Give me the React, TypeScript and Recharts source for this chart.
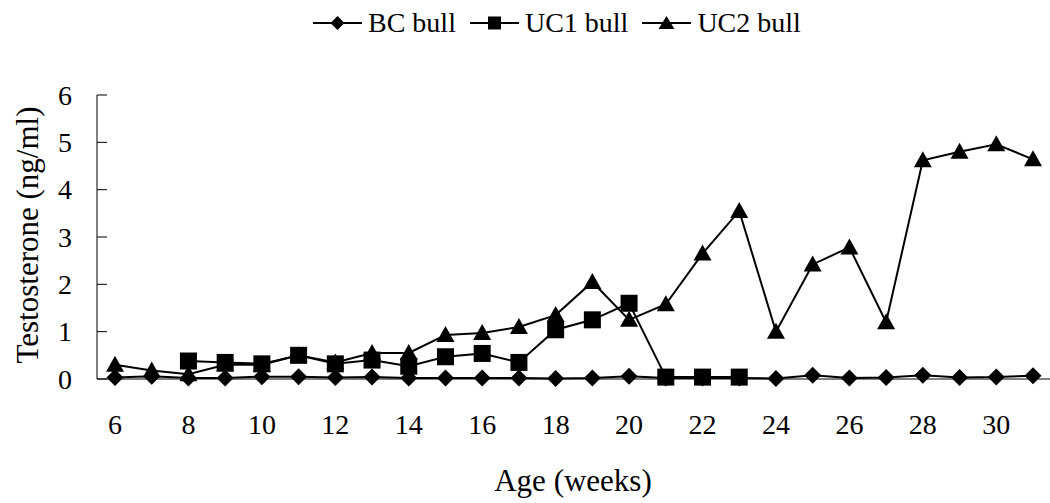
import React from "react";
import { LineChart, Line, XAxis, YAxis, Label } from "recharts";

const weeks = [6, 7, 8, 9, 10, 11, 12, 13, 14, 15, 16, 17, 18, 19, 20, 21, 22, 23, 24, 25, 26, 27, 28, 29, 30, 31];
const bcBull = [0.03, 0.06, 0.02, 0.02, 0.05, 0.05, 0.03, 0.04, 0.02, 0.02, 0.02, 0.02, 0.01, 0.02, 0.06, 0.02, 0.02, 0.02, 0.01, 0.08, 0.02, 0.03, 0.08, 0.03, 0.04, 0.07];
const uc1Bull = [null, null, 0.38, 0.35, 0.32, 0.5, 0.32, 0.4, 0.27, 0.47, 0.54, 0.35, 1.04, 1.25, 1.6, 0.04, 0.04, 0.04, null, null, null, null, null, null, null, null];
const uc2Bull = [0.3, 0.18, 0.1, 0.3, 0.3, 0.5, 0.35, 0.55, 0.55, 0.93, 0.97, 1.1, 1.35, 2.05, 1.25, 1.58, 2.65, 3.55, 1.0, 2.42, 2.78, 1.2, 4.62, 4.8, 4.96, 4.64];
const yTicks = [0, 1, 2, 3, 4, 5, 6];
const seriesNames = ["BC bull", "UC1 bull", "UC2 bull"];

const data = weeks.map((w, i) => ({
  week: w,
  bc: bcBull[i],
  uc1: uc1Bull[i],
  uc2: uc2Bull[i],
}));

const FONT = "Liberation Serif";

const Diamond = (props: any) => {
  const { cx, cy } = props;
  if (cx == null || cy == null || props.value == null) return null;
  const r = 8.5;
  return <path d={`M${cx},${cy - r}L${cx + r},${cy}L${cx},${cy + r}L${cx - r},${cy}Z`} fill="#000" />;
};
const Square = (props: any) => {
  const { cx, cy } = props;
  if (cx == null || cy == null || props.value == null) return null;
  const h = 8.5;
  return <rect x={cx - h} y={cy - h} width={2 * h} height={2 * h} fill="#000" />;
};
const Triangle = (props: any) => {
  const { cx, cy } = props;
  if (cx == null || cy == null || props.value == null) return null;
  const w = 9, hTop = 9, hBot = 7;
  return <path d={`M${cx},${cy - hTop}L${cx + w},${cy + hBot}L${cx - w},${cy + hBot}Z`} fill="#000" />;
};

const YTick = (props: any) => {
  const { x, y, payload } = props;
  return (
    <g>
      <line x1={x} x2={x + 10} y1={y} y2={y} stroke="#000" strokeWidth={1} />
      <text x={x - 25} y={y} textAnchor="end" dominantBaseline="central" fontFamily={FONT} fontSize={28} fill="#000">
        {payload.value}
      </text>
    </g>
  );
};

const icons = [
  (c: number) => <path d={`M${c},4L${c + 7},11L${c},18L${c - 7},11Z`} fill="#000" />,
  (c: number) => <rect x={c - 6.5} y={4.5} width={13} height={13} fill="#000" />,
  (c: number) => <path d={`M${c},4L${c + 8},17L${c - 8},17Z`} fill="#000" />,
];

const LegendBox = () => (
  <div
    style={{
      position: "absolute",
      left: 313,
      top: 8,
      display: "flex",
      alignItems: "center",
      fontFamily: FONT,
      fontSize: 28,
      color: "#000",
      lineHeight: "30px",
      whiteSpace: "nowrap",
    }}
  >
    {seriesNames.map((n, i) => (
      <div key={n} style={{ display: "flex", alignItems: "center", marginRight: 14 }}>
        <svg width={49} height={22} style={{ marginRight: 6 }}>
          <line x1={0} x2={49} y1={11} y2={11} stroke="#000" strokeWidth={2} />
          {icons[i](24.5)}
        </svg>
        <span>{n}</span>
      </div>
    ))}
  </div>
);

export default function App() {
  return (
    <div style={{ position: "absolute", left: 0, top: 0, width: 1050, height: 503, background: "#fff" }}>
      <LineChart width={1050} height={503} data={data} margin={{ top: 95, right: 0, bottom: 0, left: 0 }}>
        <XAxis
          dataKey="week"
          type="category"
          interval={1}
          padding={{ left: 18, right: 17 }}
          tickLine={false}
          tickSize={0}
          tickMargin={35}
          height={124}
          axisLine={{ stroke: "#000", strokeWidth: 1 }}
          tick={{ fontFamily: FONT, fontSize: 28, fill: "#000" }}
        >
          <Label
            content={() => (
              <text x={573} y={491} textAnchor="middle" fontFamily={FONT} fontSize={31} fill="#000">
                Age (weeks)
              </text>
            )}
          />
        </XAxis>
        <YAxis
          domain={[0, 6]}
          ticks={yTicks}
          width={97}
          tickLine={false}
          tickSize={0}
          tickMargin={0}
          axisLine={{ stroke: "#000", strokeWidth: 1 }}
          tick={<YTick />}
        >
          <Label
            content={() => (
              <text transform="translate(27,235) rotate(-90)" textAnchor="middle" dominantBaseline="central" fontFamily={FONT} fontSize={31} fill="#000">
                Testosterone (ng/ml)
              </text>
            )}
          />
        </YAxis>
        <Line dataKey="bc" name={seriesNames[0]} stroke="#000" strokeWidth={2} dot={<Diamond />} isAnimationActive={false} />
        <Line dataKey="uc1" name={seriesNames[1]} stroke="#000" strokeWidth={2} dot={<Square />} isAnimationActive={false} />
        <Line dataKey="uc2" name={seriesNames[2]} stroke="#000" strokeWidth={2} dot={<Triangle />} isAnimationActive={false} />
      </LineChart>
      <LegendBox />
    </div>
  );
}
